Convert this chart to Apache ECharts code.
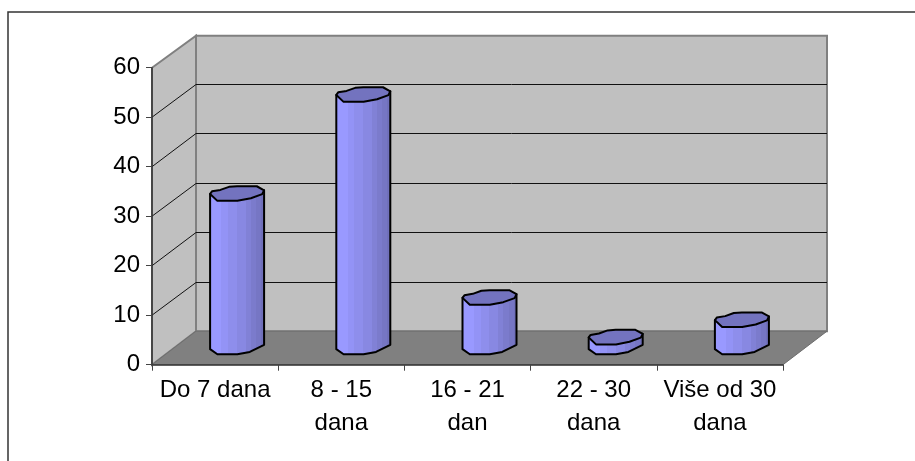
<!DOCTYPE html>
<html><head><meta charset="utf-8">
<style>html,body{margin:0;padding:0;background:#fff}#c{width:915px;height:461px}</style>
<script src="https://cdn.jsdelivr.net/npm/echarts@6/dist/echarts.min.js"></script>
</head><body><div id="c"></div>
<script>
const categories = ['Do 7 dana', '8 - 15\ndana', '16 - 21\ndan', '22 - 30\ndana', 'Više od 30\ndana'];
const values = [31, 51, 10, 2, 5.5];
const yTicks = [0, 10, 20, 30, 40, 50, 60];

// depth of the fake 3D box, in pixels
const DEPTH_X = 44, DEPTH_Y = -33.5;
const BAR_DX = 22, BAR_DY = -17.7, BAR_HW = 27, BAR_HH = 7.3;
// the low-resolution cylinder cap outline (unit shape)
const CAP = [[-1,.05],[-.93,-.3],[-.62,-.5],[-.3,-.92],[0,-1],[.73,-1],[1,-.45],[.93,.08],[.51,.64],[.01,1],[-.73,1]];
const LOWER = [[1,-.3],[.47,.68],[.01,1],[-.73,1],[-1,.3]];
const STRIPES = [[.22,'#9999FF'],[.34,'#9393F6'],[.5,'#8E8EEC'],[.66,'#8888E2'],[.75,'#8181D6'],[.84,'#7B7BCC'],[.93,'#7676C4'],[1,'#7070BB']];

const GRAY = '#808080', WALL = '#C0C0C0', DARK = '#111';

function stripeStops() {
  const stops = [];
  let from = 0;
  STRIPES.forEach(s => {
    stops.push({offset:from, color:s[1]}, {offset:s[0], color:s[1]});
    from = s[0];
  });
  return stops;
}

function wallItem(params, api) {
  const cs = params.coordSys;
  const x0 = cs.x, x1 = cs.x + cs.width, yT = cs.y, yB = cs.y + cs.height;
  const topBack = yT + DEPTH_Y + 1.5;
  const children = [
    {type:'polygon', shape:{points:[[x0+DEPTH_X,topBack],[x1+DEPTH_X,topBack],[x1+DEPTH_X,yB+DEPTH_Y],[x0+DEPTH_X,yB+DEPTH_Y]]},
     style:{fill:WALL, stroke:GRAY, lineWidth:2}},
    {type:'polygon', shape:{points:[[x0,yT],[x0+DEPTH_X,topBack],[x0+DEPTH_X,yB+DEPTH_Y],[x0,yB]]},
     style:{fill:WALL, stroke:GRAY, lineWidth:2}},
    {type:'polygon', shape:{points:[[x0,yB],[x0+DEPTH_X,yB+DEPTH_Y],[x1+DEPTH_X,yB+DEPTH_Y],[x1,yB]]},
     style:{fill:GRAY, stroke:'#6e6e6e', lineWidth:1}}
  ];
  yTicks.forEach(t => {
    if (t === 0 || t === yTicks[yTicks.length-1]) return;
    const y = api.coord([0, t])[1];
    const yb = Math.round(y + DEPTH_Y) + .5;
    children.push({type:'polyline', shape:{points:[[x0,y],[x0+DEPTH_X,yb],[x1+DEPTH_X,yb]]},
      style:{fill:null, stroke:DARK, lineWidth:1}});
  });
  return {type:'group', children};
}

function barItem(params, api) {
  const i = api.value(0), v = api.value(1);
  const base = api.coord([i, 0]), top = api.coord([i, v]);
  const cx = base[0] + BAR_DX, by = base[1] + BAR_DY, ty = top[1] + BAR_DY;
  const capPts = CAP.map(p => [cx + p[0]*BAR_HW, ty + p[1]*BAR_HH]);
  const lowPts = LOWER.map(p => [cx + p[0]*BAR_HW, by + p[1]*BAR_HH]);
  const body = [[cx + BAR_HW, ty - .45*BAR_HH]].concat(lowPts, [[cx - BAR_HW, ty + .05*BAR_HH]]);
  return {type:'group', children:[
    {type:'polygon', shape:{points:body},
     style:{stroke:'#000', lineWidth:2, lineJoin:'round',
       fill:{type:'linear', x:0,y:0,x2:1,y2:0, colorStops:stripeStops()}}},
    {type:'polygon', shape:{points:capPts}, style:{fill:'#7373BF', stroke:'#000', lineWidth:2, lineJoin:'round'}}
  ]};
}

const chart = echarts.init(document.getElementById('c'), null, {renderer:'canvas'});
chart.setOption({
  animation:false,
  backgroundColor:'#fff',
  textStyle:{fontFamily:'"Liberation Sans", Arial, sans-serif'},
  graphic:[{type:'polyline', z:10, silent:true, shape:{points:[[8,461],[8,12],[915,12]]}, style:{fill:null, stroke:'#333', lineWidth:1.5}}],
  grid:{left:152, right:132, top:67.7, bottom:96.3, containLabel:false},
  xAxis:{type:'category', data:categories, boundaryGap:true, z:4,
    axisLine:{lineStyle:{color:'#333', width:1.5}},
    axisTick:{show:true, alignWithLabel:false, length:6, lineStyle:{color:'#444', width:1}},
    axisLabel:{color:'#000', fontSize:24, lineHeight:33, margin:9, interval:0, fontFamily:'"Liberation Sans", Arial, sans-serif'},
    splitLine:{show:false}},
  yAxis:{type:'value', min:0, max:60, interval:10, z:4,
    axisLine:{show:true, lineStyle:{color:'#333', width:1.5}},
    axisTick:{show:true, length:6, lineStyle:{color:'#444', width:1}},
    axisLabel:{color:'#000', fontSize:24, margin:12, fontFamily:'"Liberation Sans", Arial, sans-serif'},
    splitLine:{show:false}},
  series:[
    {type:'custom', z:1, silent:true, coordinateSystem:'cartesian2d', data:[[0,0]], renderItem:wallItem, encode:{x:0,y:1}},
    {type:'custom', z:5, coordinateSystem:'cartesian2d', data:values.map((v,i)=>[i,v]), renderItem:barItem, encode:{x:0,y:1}}
  ]
});
</script></body></html>
